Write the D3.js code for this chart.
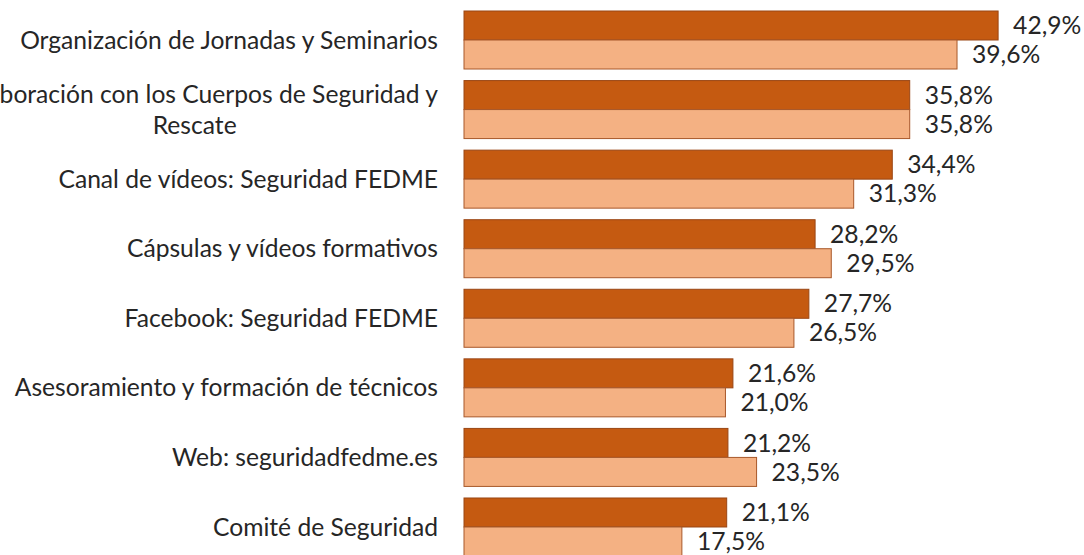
<!DOCTYPE html>
<html>
<head>
<meta charset="utf-8">
<script src="https://cdn.jsdelivr.net/npm/d3@7"></script>
<style>
  body { margin: 0; background: #fff; }
  svg { display: block; font-family: "Lato", sans-serif; }
</style>
</head>
<body>
<div id="chart"></div>
<script>
(function () {
  const categories = [
    "Organización de Jornadas y Seminarios",
    "Colaboración con los Cuerpos de Seguridad y Rescate",
    "Canal de vídeos: Seguridad FEDME",
    "Cápsulas y vídeos formativos",
    "Facebook: Seguridad FEDME",
    "Asesoramiento y formación de técnicos",
    "Web: seguridadfedme.es",
    "Comité de Seguridad"
  ];
  const seriesDark = [42.9, 35.8, 34.4, 28.2, 27.7, 21.6, 21.2, 21.1];
  const seriesLight = [39.6, 35.8, 31.3, 29.5, 26.5, 21.0, 23.5, 17.5];

  const DARK = "#C55A11";
  const LIGHT = "#F4B183";
  const TEXT = "#262626";

  const width = 1084;
  const height = 555;
  const margin = { top: 11, left: 464 };
  const step = 69.57;
  const barH = 29;
  const labelRight = 438;

  const svg = d3.select("#chart").append("svg")
    .attr("width", width)
    .attr("height", height);

  // fit font so the first label is as wide as in the reference (~418px)
  const probeT = svg.append("text").style("font-size", "20px").text(categories[0]);
  const fontSize = 20 * 418 / probeT.node().getComputedTextLength();
  probeT.remove();

  const x = d3.scaleLinear().domain([0, 100]).range([margin.left, margin.left + 1245]);
  const pad = 1 - 2 * barH / step;
  const y = d3.scaleBand()
    .domain(categories)
    .range([margin.top, margin.top + step * categories.length - pad * step])
    .paddingInner(pad)
    .paddingOuter(0);

  const rows = categories.map((c, i) => ({ cat: c, dark: seriesDark[i], light: seriesLight[i] }));

  const groups = svg.selectAll("g.grp")
    .data(rows)
    .join("g")
    .attr("class", "grp")
    .attr("transform", d => `translate(0,${y(d.cat)})`);

  groups.append("rect")
    .attr("x", x(0))
    .attr("y", 0)
    .attr("width", d => x(d.dark) - x(0))
    .attr("height", barH)
    .attr("fill", DARK)
    .attr("stroke", "#9A4614")
    .attr("stroke-width", 1);

  groups.append("rect")
    .attr("x", x(0))
    .attr("y", barH)
    .attr("width", d => x(d.light) - x(0))
    .attr("height", barH)
    .attr("fill", LIGHT)
    .attr("stroke", "#A8582A")
    .attr("stroke-width", 1);

  const fmt = v => v.toFixed(1).replace(".", ",") + "%";

  groups.append("text")
    .attr("x", d => x(d.dark) + 15)
    .attr("y", barH / 2)
    .attr("dy", "0.35em")
    .style("font-size", fontSize + "px")
    .style("fill", TEXT)
    .text(d => fmt(d.dark));

  groups.append("text")
    .attr("x", d => x(d.light) + 15)
    .attr("y", barH * 1.5)
    .attr("dy", "0.35em")
    .style("font-size", fontSize + "px")
    .style("fill", TEXT)
    .text(d => fmt(d.light));

  // category labels, wrapped like Excel (centered lines)
  const maxLine = 520;
  groups.each(function (d) {
    const g = d3.select(this);
    const t = g.append("text")
      .style("font-size", fontSize + "px")
      .style("fill", TEXT)
      .attr("text-anchor", "middle");
    const words = d.cat.split(" ");
    const lines = [];
    let line = [];
    const probe = t.append("tspan");
    words.forEach(w => {
      line.push(w);
      probe.text(line.join(" "));
      if (probe.node().getComputedTextLength() > maxLine && line.length > 1) {
        line.pop();
        lines.push(line.join(" "));
        line = [w];
      }
    });
    lines.push(line.join(" "));
    probe.text(lines[0]);
    const w0 = probe.node().getComputedTextLength();
    probe.remove();
    const cx = labelRight - w0 / 2;
    const lh = 31;
    const y0 = barH - (lines.length - 1) * lh / 2;
    lines.forEach((l, i) => {
      t.append("tspan")
        .attr("x", cx)
        .attr("y", y0 + i * lh)
        .attr("dy", "0.35em")
        .text(l);
    });
  });
})();
</script>
</body>
</html>
